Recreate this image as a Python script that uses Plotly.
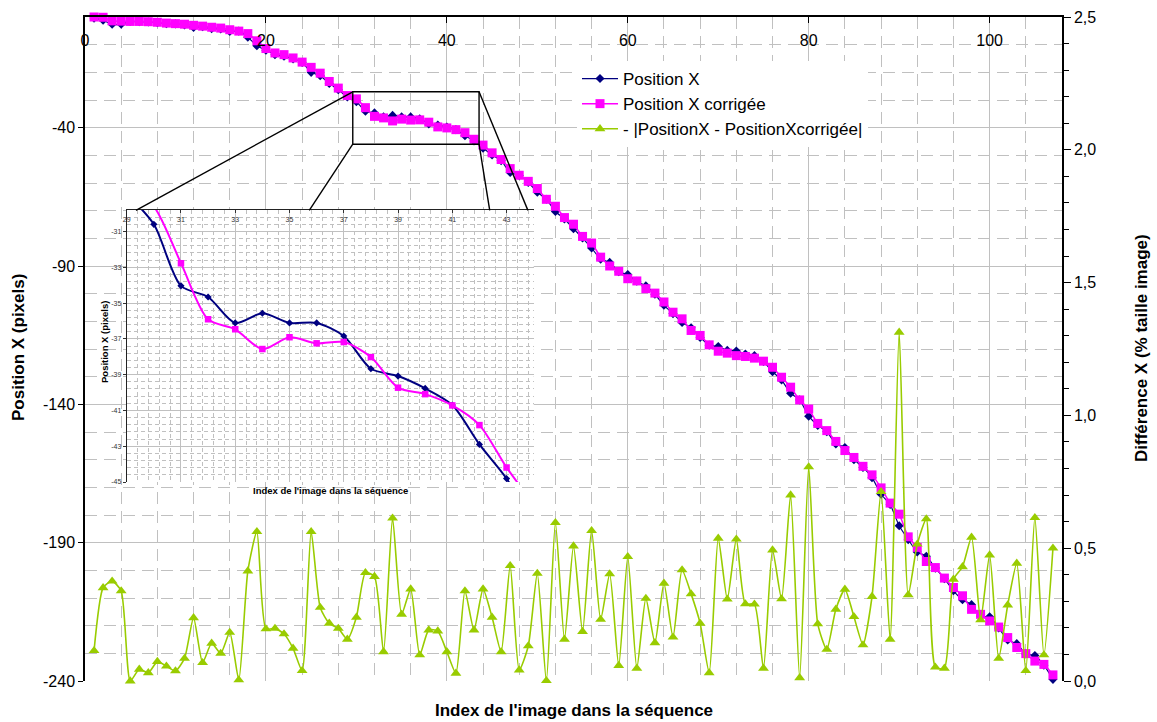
import plotly.graph_objects as go

# ---------------------------------------------------------------- data ----
image_index = list(range(1, 108))

position_x = [
    -0.4, -1.2, -2.6, -2.6, -1.6, -1.7, -1.8, -2.1, -2.4, -2.5,
    -2.9, -3.8, -3.5, -4.2, -4.3, -5.2, -5.1, -7.3, -10.4, -12.0,
    -13.6, -14.2, -15.2, -16.4, -20.0, -21.2, -24.0, -26.3, -28.9, -30.6,
    -34.04, -34.66, -36.11, -35.57, -36.11, -36.11, -36.84, -38.67, -39.08, -39.77,
    -40.70, -42.90, -44.81, -47.4, -49.9, -51.9, -56.2, -57.3, -59.8, -63.3,
    -65.9, -70.3, -73.0, -76.5, -79.9, -83.5, -87.5, -88.7, -92.1, -93.1,
    -95.5, -97.2, -100.2, -104.2, -107.2, -110.4, -112.3, -115.8, -118.6, -119.1,
    -120.5, -120.7, -121.8, -122.4, -124.5, -128.2, -131.2, -136.0, -138.4, -144.3,
    -147.6, -149.9, -154.3, -155.6, -160.0, -162.8, -166.5, -172.5, -176.2, -183.9,
    -188.9, -193.4, -194.9, -199.2, -203.0, -207.4, -210.6, -212.4, -216.6, -216.8,
    -220.8, -225.2, -226.5, -230.2, -230.8, -234.3, -239.4,
]

position_x_corrigee = [
    0.0, -0.1, -1.4, -1.5, -1.6, -1.6, -1.7, -1.9, -2.2, -2.4,
    -2.6, -3.0, -3.3, -3.7, -4.0, -4.6, -5.1, -6.0, -8.6, -11.4,
    -13.0, -13.6, -14.8, -16.3, -18.2, -20.3, -23.3, -25.7, -28.4, -29.6,
    -32.77, -35.91, -36.47, -37.57, -36.91, -37.25, -37.18, -38.02, -39.73, -40.09,
    -40.72, -41.82, -44.19, -46.3, -49.1, -51.5, -54.8, -57.2, -59.4, -62.0,
    -65.9, -68.4, -72.5, -74.9, -79.3, -81.7, -86.8, -90.0, -91.9, -94.6,
    -95.4, -98.2, -99.8, -103.0, -106.7, -109.1, -113.3, -115.1, -118.5, -120.8,
    -121.5, -122.4, -122.7, -123.3, -124.4, -126.6, -130.2, -133.8, -138.4, -141.7,
    -146.9, -149.5, -153.4, -156.7, -159.2, -162.4, -165.5, -170.2, -175.7, -179.7,
    -187.9, -191.7, -196.8, -199.0, -202.8, -206.2, -209.2, -214.1, -215.9, -218.3,
    -220.5, -224.3, -227.9, -230.1, -232.8, -234.0, -237.8,
]

# |PositionX - PositionXcorrigée| in % of the image size (right axis)
difference_pct = [
    0.114, 0.351, 0.376, 0.339, 0.000, 0.044, 0.031, 0.073, 0.056, 0.038,
    0.085, 0.238, 0.069, 0.142, 0.104, 0.183, 0.004, 0.414, 0.562, 0.196,
    0.198, 0.177, 0.123, 0.039, 0.562, 0.277, 0.217, 0.198, 0.157, 0.240,
    0.408, 0.393, 0.110, 0.613, 0.251, 0.346, 0.098, 0.192, 0.188, 0.110,
    0.029, 0.339, 0.192, 0.346, 0.240, 0.110, 0.434, 0.041, 0.132, 0.405,
    0.001, 0.596, 0.157, 0.508, 0.186, 0.566, 0.232, 0.403, 0.058, 0.468,
    0.048, 0.311, 0.144, 0.368, 0.165, 0.418, 0.328, 0.217, 0.031, 0.537,
    0.308, 0.534, 0.290, 0.289, 0.048, 0.493, 0.309, 0.700, 0.012, 0.806,
    0.215, 0.119, 0.270, 0.345, 0.242, 0.136, 0.318, 0.713, 0.157, 1.313,
    0.324, 0.515, 0.610, 0.052, 0.048, 0.383, 0.430, 0.541, 0.230, 0.474,
    0.085, 0.286, 0.443, 0.039, 0.615, 0.098, 0.500,
]

series_names = ["Position X", "Position X corrigée", "- |PositionX - PositionXcorrigée|"]

x_range = [0, 108]
y_range = [-240, 0]
y2_range = [0, 2.5]

# left axis ticks (labels written with a plain hyphen)
y_tick_vals = [-240, -190, -140, -90, -40]
y_tick_text = ["-240", "-190", "-140", "-90", "-40"]

# zoomed window shown in the inset
inset_x_range = [29, 44]
inset_y_range = [-45, -29.8]
inset_y_tick_vals = [-45, -43, -41, -39, -37, -35, -33, -31]
inset_y_tick_text = ["-45", "-43", "-41", "-39", "-37", "-35", "-33", "-31"]

# ------------------------------------------------------------- styling ----
FONT = "Arial, Liberation Sans, sans-serif"
NAVY = "#000080"
MAGENTA = "#FF00FF"
GREEN = "#99CC00"
GRID = "#C0C0C0"

W, H = 1157, 722
PLOT_L, PLOT_R, PLOT_T, PLOT_B = 85, 1062, 17, 681


def fx(px):
    return (px - PLOT_L) / (PLOT_R - PLOT_L)


def fy(py):
    return (PLOT_B - py) / (PLOT_B - PLOT_T)


inset_dom_x = [fx(126.7), fx(533.7)]
inset_dom_y = [fy(482), fy(210)]
frame_dom_x = [fx(100), fx(533.7)]
frame_dom_y = [fy(497), fy(202)]


def extend(rng, dom, outer):
    per = (rng[1] - rng[0]) / (dom[1] - dom[0])
    return [rng[0] - (dom[0] - outer[0]) * per, rng[1] + (outer[1] - dom[1]) * per]


frame_x_range = extend(inset_x_range, inset_dom_x, frame_dom_x)
frame_y_range = extend(inset_y_range, inset_dom_y, frame_dom_y)

lo = image_index.index(29)
hi = image_index.index(45) + 1
inset_index = image_index[lo:hi]

fig = go.Figure()

# main chart
fig.add_trace(go.Scatter(
    x=image_index, y=position_x, name=series_names[0], mode="lines+markers",
    line=dict(color=NAVY, width=1.2, shape="spline", smoothing=0.6),
    marker=dict(symbol="diamond", size=7, color=NAVY),
    cliponaxis=False, xaxis="x", yaxis="y"))
fig.add_trace(go.Scatter(
    x=image_index, y=position_x_corrigee, name=series_names[1], mode="lines+markers",
    line=dict(color=MAGENTA, width=1.5, shape="spline", smoothing=0.6),
    marker=dict(symbol="square", size=9, color=MAGENTA),
    cliponaxis=False, xaxis="x", yaxis="y"))
fig.add_trace(go.Scatter(
    x=image_index, y=difference_pct, name=series_names[2], mode="lines+markers",
    line=dict(color=GREEN, width=1.6, shape="spline", smoothing=0.6),
    marker=dict(symbol="triangle-up", size=9.5, color=GREEN),
    cliponaxis=False, xaxis="x", yaxis="y2"))

# inset (zoom on images 29-44)
fig.add_trace(go.Scatter(
    x=inset_index, y=position_x[lo:hi], mode="lines+markers", showlegend=False,
    line=dict(color=NAVY, width=2, shape="spline", smoothing=0.8),
    marker=dict(symbol="diamond", size=5.5, color=NAVY),
    xaxis="x4", yaxis="y4"))
fig.add_trace(go.Scatter(
    x=inset_index, y=position_x_corrigee[lo:hi], mode="lines+markers", showlegend=False,
    line=dict(color=MAGENTA, width=2, shape="spline", smoothing=0.8),
    marker=dict(symbol="square", size=6.5, color=MAGENTA),
    xaxis="x4", yaxis="y4"))

tick_font = dict(family=FONT, size=16, color="black")
small_font = dict(family=FONT, size=7, color="#333333")

major_grid = dict(showgrid=True, gridcolor=GRID, gridwidth=1.4)
inset_minor = dict(showgrid=True, gridcolor=GRID, gridwidth=1, griddash="4px,3px")

fig.update_layout(
    width=W, height=H,
    margin=dict(l=PLOT_L, r=W - PLOT_R, t=PLOT_T, b=H - PLOT_B, autoexpand=False),
    paper_bgcolor="white", plot_bgcolor="white",
    separators=", ",
    showlegend=True,
    legend=dict(
        x=fx(577), y=fy(61), xanchor="left", yanchor="top",
        bgcolor="white", borderwidth=0,
        font=dict(family=FONT, size=17, color="black"),
        itemwidth=36,
    ),
    xaxis=dict(
        domain=[0, 1], range=x_range, anchor="y", side="top",
        tick0=0, dtick=20, ticks="inside", ticklen=6, tickcolor="black", tickwidth=1,
        ticklabelposition="inside", ticklabeloverflow="allow", ticklabelstandoff=12,
        tickfont=tick_font,
        showline=True, linecolor="black", linewidth=1.5, zeroline=False,
        minor=dict(tick0=0, dtick=4, showgrid=True, gridcolor=GRID, gridwidth=1,
                   griddash="12px,7px"),
        **major_grid,
    ),
    yaxis=dict(
        domain=[0, 1], range=y_range, anchor="x",
        tickmode="array", tickvals=y_tick_vals, ticktext=y_tick_text,
        ticks="outside", ticklen=5, tickcolor="black",
        tickfont=tick_font,
        showline=True, linecolor="black", linewidth=1.5, zeroline=False,
        minor=dict(tick0=-240, dtick=10, showgrid=True, gridcolor=GRID, gridwidth=1,
                   griddash="12px,7px"),
        **major_grid,
    ),
    yaxis2=dict(
        overlaying="y", side="right", anchor="x", range=y2_range,
        tick0=0, dtick=0.5, tickformat=".1f", ticks="outside", ticklen=7,
        tickcolor="black", tickwidth=1.2, tickfont=tick_font,
        minor=dict(dtick=0.1, tick0=0, ticks="outside", ticklen=5, tickcolor="black",
                   tickwidth=1.2),
        showline=True, linecolor="black", linewidth=1.5,
        showgrid=False, zeroline=False,
    ),
    # inner half of the crossing ticks on the right axis
    yaxis5=dict(
        overlaying="y", side="right", anchor="x", range=y2_range,
        tick0=0, dtick=0.5, ticks="inside", ticklen=7, tickcolor="black", tickwidth=1.2,
        showticklabels=False,
        minor=dict(dtick=0.1, tick0=0, ticks="inside", ticklen=5, tickcolor="black",
                   tickwidth=1.2),
        showline=False, showgrid=False, zeroline=False,
    ),
    # white panel behind the inset, with its grid
    xaxis3=dict(
        domain=frame_dom_x, range=frame_x_range, anchor="y3",
        tick0=29, dtick=2, showticklabels=False, ticks="", showline=False,
        zeroline=False, showgrid=True, gridcolor=GRID, gridwidth=1,
        minor=dict(tick0=29, dtick=0.4, **inset_minor),
    ),
    yaxis3=dict(
        domain=frame_dom_y, range=frame_y_range, anchor="x3",
        tick0=-45, dtick=2, showticklabels=False, ticks="", showline=False,
        zeroline=False, showgrid=True, gridcolor=GRID, gridwidth=1,
        minor=dict(tick0=-45, dtick=0.4, **inset_minor),
    ),
    xaxis4=dict(
        domain=inset_dom_x, range=inset_x_range, anchor="y4", side="top",
        tick0=29, dtick=2, ticks="inside", ticklen=3, tickcolor="#333333",
        ticklabelposition="inside", ticklabeloverflow="allow", ticklabelstandoff=3,
        tickfont=small_font,
        showline=True, linecolor="#222222", linewidth=1, zeroline=False,
        showgrid=True, gridcolor=GRID, gridwidth=1,
        minor=dict(tick0=29, dtick=0.4, **inset_minor),
    ),
    yaxis4=dict(
        domain=inset_dom_y, range=inset_y_range, anchor="x4",
        tickmode="array", tickvals=inset_y_tick_vals, ticktext=inset_y_tick_text,
        ticks="outside", ticklen=3, tickcolor="#333333",
        tickfont=small_font,
        showline=True, linecolor="#222222", linewidth=1, zeroline=False,
        showgrid=True, gridcolor=GRID, gridwidth=1,
        minor=dict(tick0=-45, dtick=0.4, **inset_minor),
    ),
)

# zoom window on the main curve and its connector lines to the inset
box = dict(x0=29.6, x1=43.56, y0=-27.04, y1=-45.97)
connectors = [
    ((box["x0"], box["y0"]), (5.63, -69.9)),
    ((box["x0"], box["y1"]), (24.79, -69.9)),
    ((box["x1"], box["y0"]), (48.96, -69.9)),
    ((box["x1"], box["y1"]), (44.74, -69.9)),
]
fig.add_shape(type="rect", xref="x", yref="y", layer="above",
              line=dict(color="black", width=1.4), **box)
for (xa, ya), (xb, yb) in connectors:
    fig.add_shape(type="line", xref="x", yref="y", layer="above",
                  x0=xa, y0=ya, x1=xb, y1=yb, line=dict(color="black", width=1.4))

title_font = dict(family=FONT, size=17, color="black")
fig.add_annotation(text="<b>Index de l'image dans la séquence</b>", xref="paper", yref="paper",
                   x=0.5, y=fy(710), xanchor="center", yanchor="middle",
                   showarrow=False, font=title_font)
fig.add_annotation(text="<b>Position X (pixels)</b>", xref="paper", yref="paper",
                   x=fx(18), y=fy(348), xanchor="center", yanchor="middle", textangle=-90,
                   showarrow=False, font=title_font)
fig.add_annotation(text="<b>Différence X (% taille image)</b>", xref="paper", yref="paper",
                   x=fx(1141), y=fy(348), xanchor="center", yanchor="middle", textangle=-90,
                   showarrow=False, font=title_font)

inset_title_font = dict(family=FONT, size=9.5, color="black")
fig.add_annotation(text="<b>Index de l'image dans la séquence</b>", xref="paper", yref="paper",
                   x=fx(330), y=fy(490), xanchor="center", yanchor="middle",
                   showarrow=False, font=inset_title_font)
fig.add_annotation(text="<b>Position X (pixels)</b>", xref="paper", yref="paper",
                   x=fx(104), y=fy(342), xanchor="center", yanchor="middle", textangle=-90,
                   showarrow=False, font=inset_title_font)

fig.write_html("out.html")
